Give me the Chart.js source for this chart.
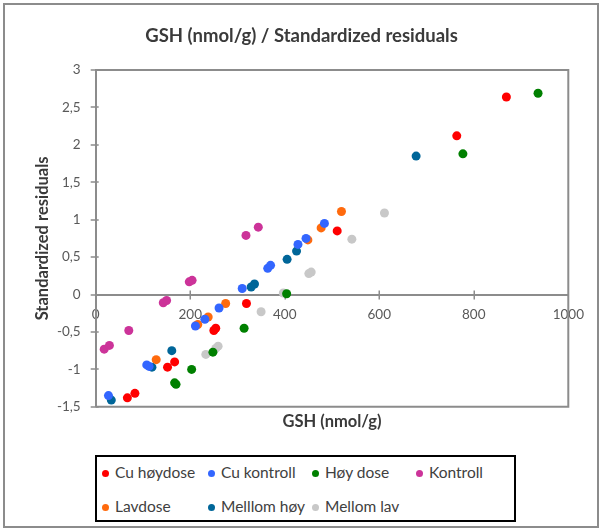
<!DOCTYPE html>
<html>
<head>
<meta charset="utf-8">
<script src="https://cdn.jsdelivr.net/npm/chart.js@4/dist/chart.umd.min.js"></script>
<style>
  html, body { margin: 0; padding: 0; background: #fff; }
  #wrap { position: relative; width: 603px; height: 531px; overflow: hidden; font-family: Lato, sans-serif; }
  #frame { position: absolute; left: 3px; top: 3px; width: 592px; height: 521px; border: 2px solid #8c8c8c; pointer-events: none; }
  canvas { position: absolute; left: 0; top: 0; }
  #legend { position: absolute; left: 95px; top: 455px; width: 417px; height: 63px; border: 2px solid #000; background: #fff; }
  .item { position: absolute; height: 18px; line-height: 18px; font-size: 15.5px; color: #404040; white-space: nowrap; }
  .dot { display: inline-block; width: 7px; height: 7px; border-radius: 50%; vertical-align: middle; margin-right: 6px; position: relative; top: -1px; }
</style>
</head>
<body>
<div id="wrap">
  <canvas id="c" width="603" height="531"></canvas>
  <div id="frame"></div>
  <div id="legend"></div>
</div>
<script>
// Chart text
const chartTitle = 'GSH (nmol/g) / Standardized residuals';
const xTitle = 'GSH (nmol/g)';
const yTitle = 'Standardized residuals';

// Series names and colours (legend order)
const seriesNames = ['Cu høydose', 'Cu kontroll', 'Høy dose', 'Kontroll', 'Lavdose', 'Melllom høy', 'Mellom lav'];
const seriesColors = ['#ff0000', '#3366ff', '#008000', '#cc3399', '#ff6a0d', '#006699', '#c8c8c8'];

// GSH (nmol/g) values per group
const cuHoydoseX  = [869, 764, 511, 319, 250, 254, 152, 167, 67, 83];
const cuKontrollX = [484, 445, 428, 370, 364, 310, 261, 231, 211, 108, 113, 27];
const hoyDoseX    = [936, 777, 404, 314, 248, 203, 167, 170];
const kontrollX   = [344, 318, 198, 204, 143, 150, 70, 18, 29];
const lavdoseX    = [520, 477, 449, 275, 238, 216, 128];
const mellomHoyX  = [678, 425, 405, 336, 329, 161, 119, 33];
const mellomLavX  = [611, 542, 451, 456, 397, 350, 259, 254, 233];

// Standardized residuals per group
const cuHoydoseY  = [2.64, 2.12, 0.85, -0.12, -0.48, -0.45, -0.97, -0.90, -1.38, -1.32];
const cuKontrollY = [0.95, 0.75, 0.67, 0.39, 0.35, 0.08, -0.18, -0.33, -0.42, -0.94, -0.96, -1.35];
const hoyDoseY    = [2.69, 1.88, 0.01, -0.45, -0.77, -1.00, -1.18, -1.20];
const kontrollY   = [0.90, 0.79, 0.17, 0.19, -0.11, -0.08, -0.48, -0.73, -0.68];
const lavdoseY    = [1.11, 0.89, 0.73, -0.12, -0.30, -0.40, -0.87];
const mellomHoyY  = [1.85, 0.58, 0.47, 0.14, 0.10, -0.75, -0.97, -1.41];
const mellomLavY  = [1.09, 0.74, 0.28, 0.30, 0.02, -0.23, -0.69, -0.72, -0.80];

// Axis ranges and tick steps
const xRange = [0, 1000];
const xStep = 200;
const yRange = [-1.5, 3];
const yStep = 0.5;

const xs = [cuHoydoseX, cuKontrollX, hoyDoseX, kontrollX, lavdoseX, mellomHoyX, mellomLavX];
const ys = [cuHoydoseY, cuKontrollY, hoyDoseY, kontrollY, lavdoseY, mellomHoyY, mellomLavY];

const datasets = seriesNames.map((name, i) => ({
  label: name,
  data: xs[i].map((x, j) => ({ x: x, y: ys[i][j] })),
  backgroundColor: seriesColors[i],
  borderColor: seriesColors[i],
  borderWidth: 0,
  pointRadius: 4.5,
  pointHoverRadius: 4.5
}));

const gridGrey = '#8c8c8c';
const tickFont = { family: 'Lato', size: 13.5 };
const axisTitleFont = { family: 'Lato', size: 16.5, weight: 'bold', lineHeight: 1.2 };

// Plot-area outline and cross-shaped tick marks on both axes
const axisDecor = {
  id: 'axisDecor',
  beforeDatasetsDraw(chart) {
    const { ctx, chartArea: a, scales } = chart;
    const x = scales.x, y = scales.y;
    ctx.save();
    ctx.strokeStyle = gridGrey;
    ctx.lineWidth = 2;
    ctx.beginPath();
    ctx.moveTo(a.left, a.top);
    ctx.lineTo(a.right, a.top);
    ctx.lineTo(a.right, a.bottom);
    ctx.lineTo(a.left, a.bottom);
    ctx.stroke();
    ctx.lineWidth = 1.5;
    const y0 = y.getPixelForValue(0);
    ctx.beginPath();
    x.ticks.forEach(t => {
      if (t.value <= xRange[0] || t.value >= xRange[1]) return;
      const px = Math.round(x.getPixelForValue(t.value)) + 0.25;
      ctx.moveTo(px, y0 - 4);
      ctx.lineTo(px, y0 + 5);
    });
    y.ticks.forEach(t => {
      const py = Math.round(y.getPixelForValue(t.value));
      ctx.moveTo(a.left - 5, py);
      ctx.lineTo(a.left + 3, py);
    });
    ctx.stroke();
    ctx.restore();
  }
};

const chart = new Chart(document.getElementById('c'), {
  type: 'scatter',
  data: { datasets: datasets },
  options: {
    responsive: false,
    animation: false,
    layout: { padding: { left: 0, right: 0, top: 0, bottom: 99 } },
    plugins: {
      legend: { display: false },
      tooltip: { enabled: false },
      title: {
        display: true,
        text: chartTitle,
        color: '#3a3a3a',
        font: { family: 'Lato', size: 18.5, weight: 'bold', lineHeight: 1.2 },
        padding: { top: 25, bottom: 22.8 }
      }
    },
    scales: {
      x: {
        type: 'linear',
        min: xRange[0],
        max: xRange[1],
        position: { y: 0 },
        ticks: { stepSize: xStep, color: '#595959', font: tickFont, padding: 12, maxRotation: 0, callback: v => String(v) },
        grid: { display: false, drawTicks: false },
        border: { display: true, color: gridGrey, width: 2 }
      },
      xTitleAxis: {
        type: 'linear',
        axis: 'x',
        position: 'bottom',
        min: xRange[0],
        max: xRange[1],
        ticks: { display: false },
        grid: { display: false, drawTicks: false },
        border: { display: false },
        title: {
          display: true,
          text: xTitle,
          color: '#3a3a3a',
          font: axisTitleFont,
          padding: { top: 5.4, bottom: 0 }
        }
      },
      y: {
        type: 'linear',
        min: yRange[0],
        max: yRange[1],
        position: 'left',
        ticks: {
          stepSize: yStep,
          color: '#595959',
          font: tickFont,
          padding: 15,
          callback: v => String(v).replace('.', ',')
        },
        grid: { display: false, drawTicks: false },
        border: { display: true, color: gridGrey, width: 2 },
        title: {
          display: true,
          text: yTitle,
          color: '#3a3a3a',
          font: axisTitleFont,
          padding: { top: 33, bottom: 0 }
        },
        afterFit(scale) { scale.width = 95.7; }
      },
      // empty right-hand margin so the plot ends where the frame gap begins
      yMargin: {
        type: 'linear',
        axis: 'y',
        position: 'right',
        ticks: { display: false },
        grid: { display: false, drawTicks: false },
        border: { display: false },
        afterFit(scale) { scale.width = 34.7; }
      }
    }
  },
  plugins: [axisDecor]
});

// Legend built from the chart's datasets: four columns, two rows
const legendCols = [5, 111, 215, 319];
const legendRows = [6, 40];
const legendEl = document.getElementById('legend');
chart.data.datasets.forEach((ds, i) => {
  const item = document.createElement('div');
  item.className = 'item';
  item.style.left = legendCols[i % 4] + 'px';
  item.style.top = legendRows[Math.floor(i / 4)] + 'px';
  const dot = document.createElement('span');
  dot.className = 'dot';
  dot.style.background = ds.backgroundColor;
  item.appendChild(dot);
  item.appendChild(document.createTextNode(ds.label));
  legendEl.appendChild(item);
});
</script>
</body>
</html>
